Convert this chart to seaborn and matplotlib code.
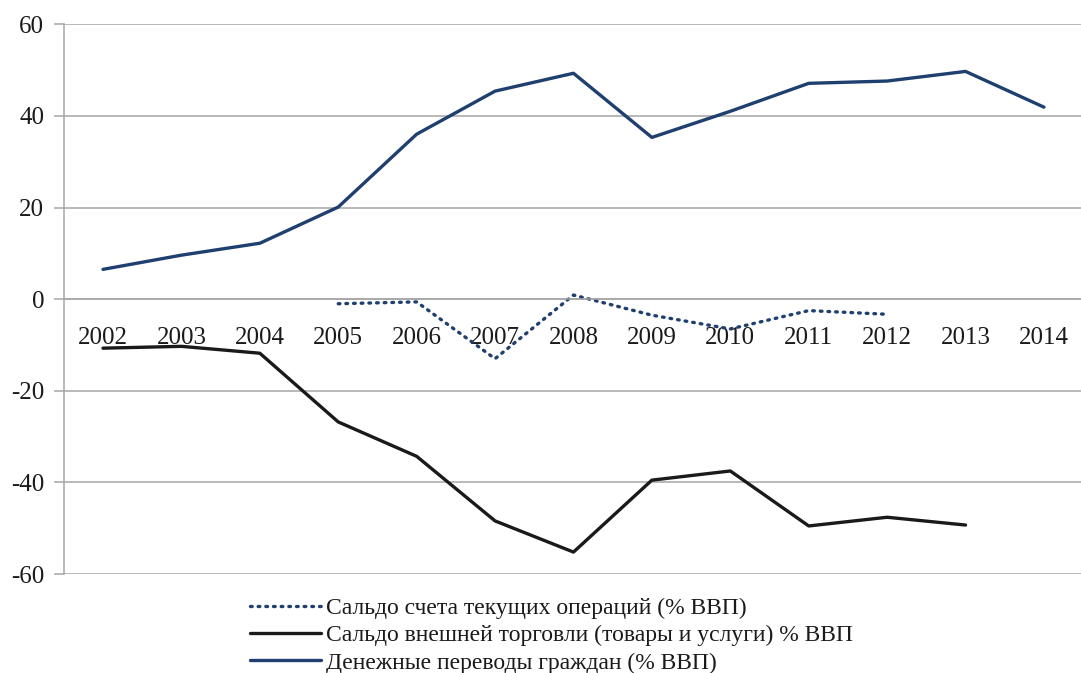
import pandas as pd
import seaborn as sns
import matplotlib.pyplot as plt
from matplotlib.ticker import FixedLocator

# Values
years = list(range(2002, 2015))
current_account = [None, None, None, -1.0, -0.6, -13.0, 0.9, -3.5, -6.5, -2.5, -3.3, None, None]
trade_balance = [-10.7, -10.3, -11.8, -26.8, -34.3, -48.4, -55.2, -39.5, -37.5, -49.5, -47.6, -49.3, None]
remittances = [6.5, 9.6, 12.2, 20.1, 36.0, 45.4, 49.3, 35.3, 41.0, 47.1, 47.6, 49.7, 41.9]

labels = [
    'Сальдо счета текущих операций (% ВВП)',
    'Сальдо внешней торговли (товары и услуги) % ВВП',
    'Денежные переводы граждан (% ВВП)',
]

df = pd.DataFrame({
    'year': years,
    'ca': pd.array(current_account, dtype='Float64'),
    'tb': pd.array(trade_balance, dtype='Float64'),
    'rem': pd.array(remittances, dtype='Float64'),
}).astype({'ca': float, 'tb': float, 'rem': float})

sns.set_style('white')
plt.rcParams['font.family'] = ['Liberation Serif', 'DejaVu Serif']
plt.rcParams['axes.unicode_minus'] = False

blue = '#1f3f6f'
fig = plt.figure(figsize=(10.81, 6.73), dpi=100)
ax = fig.add_axes([0.059, 0.147, 0.943, 0.817])

sns.lineplot(data=df, x='year', y='ca', ax=ax, color=blue, linewidth=2.4,
             linestyle=(0, (0.5, 1.8)), dash_capstyle='round', label=labels[0])
sns.lineplot(data=df, x='year', y='tb', ax=ax, color='#1a1a1a', linewidth=2.4, label=labels[1])
sns.lineplot(data=df, x='year', y='rem', ax=ax, color=blue, linewidth=2.4, label=labels[2])

ax.set_xlim(2001.5, 2014.5)
ax.set_ylim(-60, 60)
ax.set_yticks(range(-60, 61, 20))
ax.yaxis.grid(True, color='#a6a6a6', linewidth=1.1)
ax.set_axisbelow(True)

# category axis crossing at zero
ax.spines['bottom'].set_position(('data', 0))
for s in ['top', 'right']:
    ax.spines[s].set_visible(False)
for s in ['left', 'bottom']:
    ax.spines[s].set_color('#a6a6a6')
    ax.spines[s].set_linewidth(1.1)

ax.set_xticks(years)
ax.xaxis.set_minor_locator(FixedLocator([y + 0.5 for y in range(2001, 2015)]))
ax.tick_params(axis='x', which='major', length=0, pad=20, labelsize=18, labelcolor='#1a1a1a')
ax.tick_params(axis='x', which='minor', length=8, width=1.1, color='#a6a6a6', direction='out')
ax.tick_params(axis='y', length=7, width=1.1, color='#a6a6a6', labelsize=18, pad=7,
               labelcolor='#1a1a1a', left=True)
ax.set_xlabel('')
ax.set_ylabel('')

leg = ax.legend(loc='upper left', bbox_to_anchor=(0.183, -0.043), frameon=False,
                fontsize=17, handlelength=3.0, handletextpad=0.2, labelspacing=0.24,
                borderaxespad=0, borderpad=0)
for t in leg.get_texts():
    t.set_color('#1a1a1a')

plt.savefig('out.png', dpi=100)
plt.close()
